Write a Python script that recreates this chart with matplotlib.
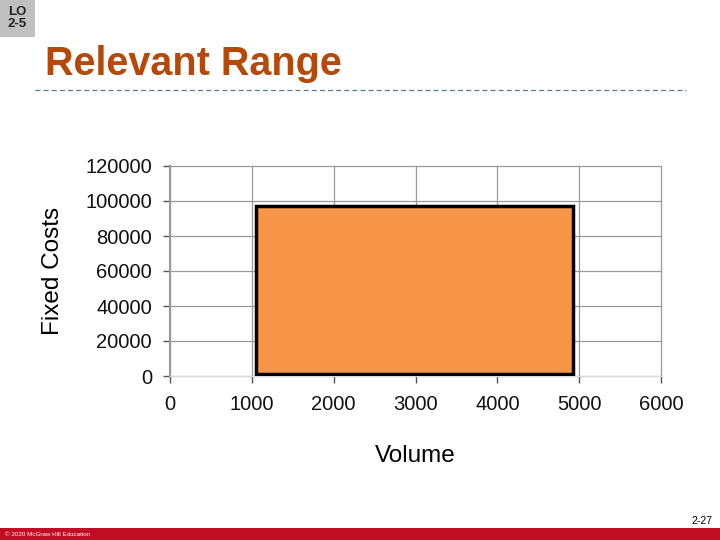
import matplotlib.pyplot as plt
from matplotlib.patches import Rectangle

# relevant range box (volume from/to, fixed cost level)
range_volume = [1050, 4930]
range_cost = [1000, 97000]
x_ticks = [0, 1000, 2000, 3000, 4000, 5000, 6000]
y_ticks = [0, 20000, 40000, 60000, 80000, 100000, 120000]

plt.rcParams['font.family'] = ['Liberation Sans', 'DejaVu Sans']

fig = plt.figure(figsize=(7.2, 5.4), dpi=100)
W, H = 720.0, 540.0

# LO badge
fig.patches.append(Rectangle((0, 1 - 37 / H), 35 / W, 37 / H, transform=fig.transFigure,
                             facecolor='#c0c0c0', edgecolor='none'))
fig.text(17 / W, 1 - 18 / H, 'LO\n2-5', ha='center', va='center', fontsize=9.5,
         fontweight='bold', color='#222222', linespacing=1.05)

# title + dashed rule
fig.text(45 / W, 1 - 64 / H, 'Relevant Range', ha='left', va='center', fontsize=28.5,
         fontweight='bold', color='#b5490a')
fig.add_artist(plt.Line2D([35 / W, 686 / W], [1 - 90 / H, 1 - 90 / H], transform=fig.transFigure,
                          color='#5a7d9a', lw=0.9, ls=(0, (4, 2.5))))

# footer
fig.patches.append(Rectangle((0, 0), 1, 12 / H, transform=fig.transFigure,
                             facecolor='#c00d23', edgecolor='none'))
fig.text(5 / W, 5 / H, '© 2020 McGraw Hill Education', ha='left', va='center',
         fontsize=4.5, color='white')
fig.text(712 / W, 1 - 521 / H, '2-27', ha='right', va='center', fontsize=7.5, color='black')

ax = fig.add_axes([170 / W, 1 - 376 / H, 491 / W, 210 / H])
ax.set_xlim(x_ticks[0], x_ticks[-1])
ax.set_ylim(y_ticks[0], y_ticks[-1])
ax.set_xticks(x_ticks)
ax.set_yticks(y_ticks)
ax.tick_params(axis='both', labelsize=14.5, colors='#555555', labelcolor='#111111', length=5, width=1)
ax.tick_params(axis='y', pad=8)
ax.tick_params(axis='x', pad=9)
ax.grid(True, color='#9a9a9a', lw=0.9)
for gl in ax.get_xgridlines() + ax.get_ygridlines():
    gl.set_clip_on(False)
ax.set_axisbelow(True)
for side in ['top', 'right']:
    ax.spines[side].set_visible(False)
ax.spines['left'].set_color('#999999')
ax.spines['left'].set_linewidth(1.5)
ax.spines['bottom'].set_color('#dddddd')

ax.add_patch(Rectangle((range_volume[0], range_cost[0]), range_volume[1] - range_volume[0],
                       range_cost[1] - range_cost[0], facecolor='#f79646',
                       edgecolor='black', lw=2.5, zorder=3))

ax.set_xlabel('Volume', fontsize=17.5, labelpad=22)
ax.set_ylabel('Fixed Costs', fontsize=17.5, labelpad=15)

fig.savefig('out.png', dpi=100)
